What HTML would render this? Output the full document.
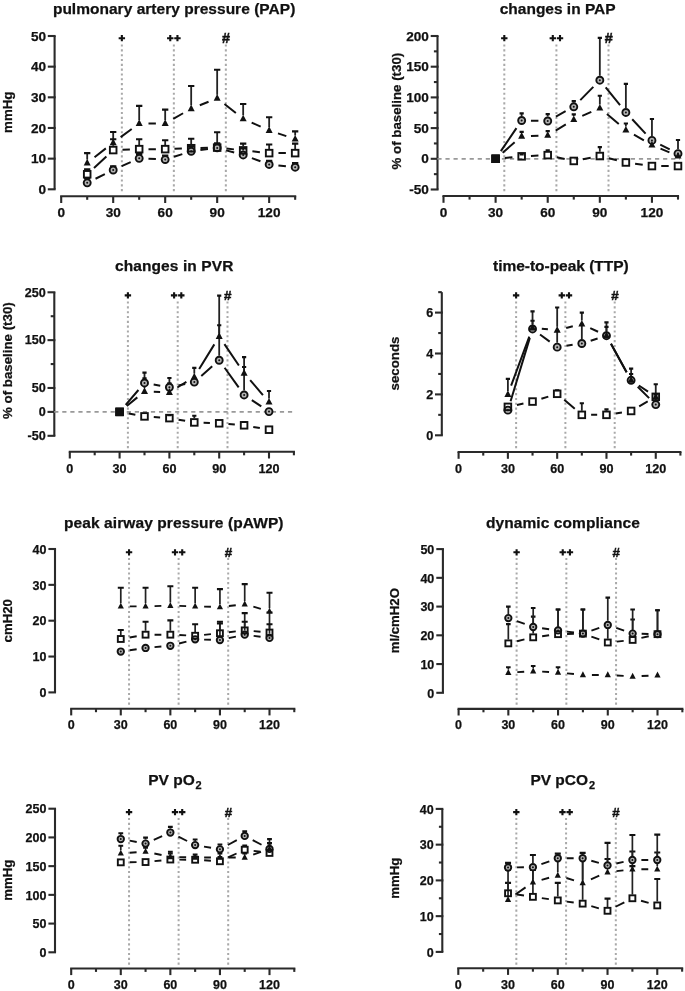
<!DOCTYPE html>
<html><head><meta charset="utf-8"><title>figure</title>
<style>
html,body{margin:0;padding:0;background:#fff;}
body{width:685px;height:991px;overflow:hidden;}
svg{display:block;filter:blur(0.55px);}
text{font-family:"Liberation Sans",sans-serif;font-weight:bold;fill:#111;stroke:#111;stroke-width:0.25px;}
</style></head><body>
<svg width="685" height="991" viewBox="0 0 685 991">
<rect width="685" height="991" fill="#fff"/>
<g>
<text x="174.1" y="13.5" font-size="15.5" text-anchor="middle" textLength="242.4">pulmonary artery pressure (PAP)</text>
<text transform="translate(11.8 112.2) rotate(-90)" font-size="13.3" text-anchor="middle">mmHg</text>
<path d="M54.6 36V189.3" stroke="#2a2a2a" stroke-width="2.1" fill="none"/>
<path d="M47.8 189.3H55.65" stroke="#2a2a2a" stroke-width="2.1"/>
<text x="46" y="193.86" font-size="13.6" text-anchor="end">0</text>
<path d="M47.8 158.64H55.65" stroke="#2a2a2a" stroke-width="2.1"/>
<text x="46" y="163.2" font-size="13.6" text-anchor="end">10</text>
<path d="M47.8 127.98H55.65" stroke="#2a2a2a" stroke-width="2.1"/>
<text x="46" y="132.54" font-size="13.6" text-anchor="end">20</text>
<path d="M47.8 97.32H55.65" stroke="#2a2a2a" stroke-width="2.1"/>
<text x="46" y="101.88" font-size="13.6" text-anchor="end">30</text>
<path d="M47.8 66.66H55.65" stroke="#2a2a2a" stroke-width="2.1"/>
<text x="46" y="71.22" font-size="13.6" text-anchor="end">40</text>
<path d="M47.8 36H55.65" stroke="#2a2a2a" stroke-width="2.1"/>
<text x="46" y="40.56" font-size="13.6" text-anchor="end">50</text>
<path d="M60.15 196.2H296.21" stroke="#2a2a2a" stroke-width="2.1" fill="none"/>
<path d="M61.2 196.2V203" stroke="#2a2a2a" stroke-width="2.1"/>
<text x="61.2" y="217.2" font-size="13.6" text-anchor="middle">0</text>
<path d="M113.19 196.2V203" stroke="#2a2a2a" stroke-width="2.1"/>
<text x="113.19" y="217.2" font-size="13.6" text-anchor="middle">30</text>
<path d="M165.18 196.2V203" stroke="#2a2a2a" stroke-width="2.1"/>
<text x="165.18" y="217.2" font-size="13.6" text-anchor="middle">60</text>
<path d="M217.17 196.2V203" stroke="#2a2a2a" stroke-width="2.1"/>
<text x="217.17" y="217.2" font-size="13.6" text-anchor="middle">90</text>
<path d="M269.16 196.2V203" stroke="#2a2a2a" stroke-width="2.1"/>
<text x="269.16" y="217.2" font-size="13.6" text-anchor="middle">120</text>
<path d="M87.2 196.2V199.8" stroke="#2a2a2a" stroke-width="2.1"/>
<path d="M139.19 196.2V199.8" stroke="#2a2a2a" stroke-width="2.1"/>
<path d="M191.18 196.2V199.8" stroke="#2a2a2a" stroke-width="2.1"/>
<path d="M243.17 196.2V199.8" stroke="#2a2a2a" stroke-width="2.1"/>
<path d="M295.16 196.2V199.8" stroke="#2a2a2a" stroke-width="2.1"/>
<path d="M121.86 44.5V193.2" stroke="#a9a9a9" stroke-width="2.0" stroke-dasharray="2.1 2.72"/>
<path d="M173.85 44.5V193.2" stroke="#a9a9a9" stroke-width="2.0" stroke-dasharray="2.1 2.72"/>
<path d="M225.84 44.5V193.2" stroke="#a9a9a9" stroke-width="2.0" stroke-dasharray="2.1 2.72"/>
<path d="M118.66 38.2h6.4M121.86 35.1v6.2" stroke="#111" stroke-width="2.1"/>
<path d="M167.05 38.2h6.4M170.25 35.1v6.2" stroke="#111" stroke-width="2.1"/>
<path d="M174.25 38.2h6.4M177.45 35.1v6.2" stroke="#111" stroke-width="2.1"/>
<text x="226.04" y="42.9" font-size="14.4" text-anchor="middle" style="stroke-width:0.5px">#</text>
<path d="M94.53 157.22L105.85 148.41M120.65 137.15L131.72 128.93M148.49 123.38L155.88 123.38M173.27 118.8L183.08 113.25M199.81 105.2L208.54 101.7M224.47 104.01L235.87 113.02M251.65 122.59L260.67 126.63M277.99 133.35L286.32 136.1" stroke="#111" stroke-width="2.0" fill="none" stroke-linecap="butt"/>
<path d="M87.2 159.43V153.12M113.19 139.2V131.97M139.19 119.88V105.9M165.18 119.88V109.58M191.18 105.16V85.98M217.17 94.74V69.73M243.17 115.28V104.07M269.16 126.93V117.25M295.16 135.52V131.35" stroke="#222" stroke-width="1.8" fill="none"/>
<path d="M84.05 153.12H90.35M110.04 131.97H116.34M136.03 105.9H142.34M162.03 109.58H168.33M188.03 85.98H194.33M214.02 69.73H220.32M240.02 104.07H246.32M266.01 117.25H272.31M292.01 131.35H298.31" stroke="#111" stroke-width="2.1" fill="none"/>
<path d="M94 167.94L106.39 156.4M122.48 149.73L129.89 149.46M148.49 149.14L155.88 149.14M174.47 148.81L181.88 148.54M200.47 148L207.87 147.82M226.42 148.58L233.92 149.38M252.41 151.34L259.91 152.14M278.46 153.12L285.86 153.12" stroke="#111" stroke-width="2.0" fill="none" stroke-linecap="butt"/>
<path d="M87.2 170.08V169.37M113.19 145.86V139.32M139.19 144.94V139.32M165.18 144.94V140.24M191.18 144.02V138.71M217.17 143.4V132.27M243.17 146.16V143.62M269.16 148.92V144.54M295.16 148.92V143.62" stroke="#222" stroke-width="1.8" fill="none"/>
<path d="M84.05 169.37H90.35M110.04 139.32H116.34M136.03 139.32H142.34M162.03 140.24H168.33M188.03 138.71H194.33M214.02 132.27H220.32M240.02 143.62H246.32M266.01 144.54H272.31M292.01 143.62H298.31" stroke="#111" stroke-width="2.1" fill="none"/>
<path d="M95.53 178.73L104.86 174.11M121.68 166.18L130.7 162.14M148.47 158.77L155.89 159.12M174.04 156.74L182.31 154.1M200.4 150.09L207.95 149.11M226.15 150.34L234.19 152.53M251.9 158.15L260.43 161.27M278.41 165.45L285.91 166.24" stroke="#111" stroke-width="2.0" fill="none" stroke-linecap="butt"/>
<path d="M191.18 146.88V146.38M243.17 150.56V148.52" stroke="#222" stroke-width="1.8" fill="none"/>
<path d="M84.05 178.57H90.35M110.04 166.31H116.34M136.03 154.04H142.34M162.03 155.57H168.33M188.03 146.38H194.33M214.02 143.31H220.32M240.02 148.52H246.32M266.01 160.79H272.31M292.01 162.93H298.31" stroke="#111" stroke-width="2.1" fill="none"/>
<circle cx="87.2" cy="182.86" r="3.5" fill="#b4b4b4" stroke="#111" stroke-width="1.9"/>
<circle cx="87.2" cy="182.86" r="1.0" fill="#111"/>
<circle cx="113.19" cy="169.98" r="3.5" fill="#b4b4b4" stroke="#111" stroke-width="1.9"/>
<circle cx="113.19" cy="169.98" r="1.0" fill="#111"/>
<circle cx="139.19" cy="158.33" r="3.5" fill="#b4b4b4" stroke="#111" stroke-width="1.9"/>
<circle cx="139.19" cy="158.33" r="1.0" fill="#111"/>
<circle cx="165.18" cy="159.56" r="3.5" fill="#b4b4b4" stroke="#111" stroke-width="1.9"/>
<circle cx="165.18" cy="159.56" r="1.0" fill="#111"/>
<circle cx="191.18" cy="151.28" r="3.5" fill="#b4b4b4" stroke="#111" stroke-width="1.9"/>
<circle cx="191.18" cy="151.28" r="1.0" fill="#111"/>
<circle cx="217.17" cy="147.91" r="3.5" fill="#b4b4b4" stroke="#111" stroke-width="1.9"/>
<circle cx="217.17" cy="147.91" r="1.0" fill="#111"/>
<circle cx="243.17" cy="154.96" r="3.5" fill="#b4b4b4" stroke="#111" stroke-width="1.9"/>
<circle cx="243.17" cy="154.96" r="1.0" fill="#111"/>
<circle cx="269.16" cy="164.47" r="3.5" fill="#b4b4b4" stroke="#111" stroke-width="1.9"/>
<circle cx="269.16" cy="164.47" r="1.0" fill="#111"/>
<circle cx="295.16" cy="167.22" r="3.5" fill="#b4b4b4" stroke="#111" stroke-width="1.9"/>
<circle cx="295.16" cy="167.22" r="1.0" fill="#111"/>
<rect x="83.9" y="170.98" width="6.6" height="6.6" fill="none" stroke="#111" stroke-width="1.9"/>
<rect x="109.89" y="146.76" width="6.6" height="6.6" fill="none" stroke="#111" stroke-width="1.9"/>
<rect x="135.88" y="145.84" width="6.6" height="6.6" fill="none" stroke="#111" stroke-width="1.9"/>
<rect x="161.88" y="145.84" width="6.6" height="6.6" fill="none" stroke="#111" stroke-width="1.9"/>
<rect x="187.88" y="144.92" width="6.6" height="6.6" fill="none" stroke="#111" stroke-width="1.9"/>
<rect x="213.87" y="144.3" width="6.6" height="6.6" fill="none" stroke="#111" stroke-width="1.9"/>
<rect x="239.87" y="147.06" width="6.6" height="6.6" fill="none" stroke="#111" stroke-width="1.9"/>
<rect x="265.86" y="149.82" width="6.6" height="6.6" fill="none" stroke="#111" stroke-width="1.9"/>
<rect x="291.86" y="149.82" width="6.6" height="6.6" fill="none" stroke="#111" stroke-width="1.9"/>
<path d="M87.2 158.81L90.7 165.46L83.7 165.46Z" fill="#111"/>
<path d="M113.19 138.57L116.69 145.22L109.69 145.22Z" fill="#111"/>
<path d="M139.19 119.26L142.69 125.91L135.69 125.91Z" fill="#111"/>
<path d="M165.18 119.26L168.68 125.91L161.68 125.91Z" fill="#111"/>
<path d="M191.18 104.54L194.68 111.19L187.68 111.19Z" fill="#111"/>
<path d="M217.17 94.12L220.67 100.77L213.67 100.77Z" fill="#111"/>
<path d="M243.17 114.66L246.67 121.31L239.67 121.31Z" fill="#111"/>
<path d="M269.16 126.31L272.66 132.96L265.66 132.96Z" fill="#111"/>
<path d="M295.16 134.89L298.66 141.54L291.66 141.54Z" fill="#111"/>
</g>
<g>
<text x="557.7" y="13.5" font-size="15.5" text-anchor="middle" textLength="115.9">changes in PAP</text>
<text transform="translate(400.6 111.1) rotate(-90)" font-size="13.3" text-anchor="middle">% of baseline (t30)</text>
<path d="M437.5 36V189.5" stroke="#2a2a2a" stroke-width="2.1" fill="none"/>
<path d="M430.7 189.5H438.55" stroke="#2a2a2a" stroke-width="2.1"/>
<text x="428.9" y="194.06" font-size="13.6" text-anchor="end">-50</text>
<path d="M430.7 158.8H438.55" stroke="#2a2a2a" stroke-width="2.1"/>
<text x="428.9" y="163.36" font-size="13.6" text-anchor="end">0</text>
<path d="M430.7 128.1H438.55" stroke="#2a2a2a" stroke-width="2.1"/>
<text x="428.9" y="132.66" font-size="13.6" text-anchor="end">50</text>
<path d="M430.7 97.4H438.55" stroke="#2a2a2a" stroke-width="2.1"/>
<text x="428.9" y="101.96" font-size="13.6" text-anchor="end">100</text>
<path d="M430.7 66.7H438.55" stroke="#2a2a2a" stroke-width="2.1"/>
<text x="428.9" y="71.26" font-size="13.6" text-anchor="end">150</text>
<path d="M430.7 36H438.55" stroke="#2a2a2a" stroke-width="2.1"/>
<text x="428.9" y="40.56" font-size="13.6" text-anchor="end">200</text>
<path d="M433.9 174.15H437.5" stroke="#2a2a2a" stroke-width="2.1"/>
<path d="M433.9 143.45H437.5" stroke="#2a2a2a" stroke-width="2.1"/>
<path d="M433.9 112.75H437.5" stroke="#2a2a2a" stroke-width="2.1"/>
<path d="M433.9 82.05H437.5" stroke="#2a2a2a" stroke-width="2.1"/>
<path d="M433.9 51.35H437.5" stroke="#2a2a2a" stroke-width="2.1"/>
<path d="M442.45 196H679.04" stroke="#2a2a2a" stroke-width="2.1" fill="none"/>
<path d="M443.5 196V202.8" stroke="#2a2a2a" stroke-width="2.1"/>
<text x="443.5" y="217" font-size="13.6" text-anchor="middle">0</text>
<path d="M495.61 196V202.8" stroke="#2a2a2a" stroke-width="2.1"/>
<text x="495.61" y="217" font-size="13.6" text-anchor="middle">30</text>
<path d="M547.72 196V202.8" stroke="#2a2a2a" stroke-width="2.1"/>
<text x="547.72" y="217" font-size="13.6" text-anchor="middle">60</text>
<path d="M599.83 196V202.8" stroke="#2a2a2a" stroke-width="2.1"/>
<text x="599.83" y="217" font-size="13.6" text-anchor="middle">90</text>
<path d="M651.94 196V202.8" stroke="#2a2a2a" stroke-width="2.1"/>
<text x="651.94" y="217" font-size="13.6" text-anchor="middle">120</text>
<path d="M469.56 196V199.6" stroke="#2a2a2a" stroke-width="2.1"/>
<path d="M521.66 196V199.6" stroke="#2a2a2a" stroke-width="2.1"/>
<path d="M573.77 196V199.6" stroke="#2a2a2a" stroke-width="2.1"/>
<path d="M625.88 196V199.6" stroke="#2a2a2a" stroke-width="2.1"/>
<path d="M678 196V199.6" stroke="#2a2a2a" stroke-width="2.1"/>
<path d="M504.3 44.5V193.2" stroke="#a9a9a9" stroke-width="2.0" stroke-dasharray="2.1 2.72"/>
<path d="M556.4 44.5V193.2" stroke="#a9a9a9" stroke-width="2.0" stroke-dasharray="2.1 2.72"/>
<path d="M608.51 44.5V193.2" stroke="#a9a9a9" stroke-width="2.0" stroke-dasharray="2.1 2.72"/>
<path d="M501.1 38.2h6.4M504.3 35.1v6.2" stroke="#111" stroke-width="2.1"/>
<path d="M549.6 38.2h6.4M552.8 35.1v6.2" stroke="#111" stroke-width="2.1"/>
<path d="M556.8 38.2h6.4M560 35.1v6.2" stroke="#111" stroke-width="2.1"/>
<text x="608.72" y="42.9" font-size="14.4" text-anchor="middle" style="stroke-width:0.5px">#</text>
<path d="M437.4 158.8H680" stroke="#999" stroke-width="1.7" stroke-dasharray="4.2 3.86"/>
<path d="M502.64 152.71L514.64 142.3M530.96 135.9L538.43 135.65M555.67 130.53L565.82 124.38M582.29 115.82L591.32 111.83M606.94 114.08L618.78 124.07M633.95 134.7L643.88 140.41M660.51 148.66L669.43 152.42" stroke="#111" stroke-width="2.0" fill="none" stroke-linecap="butt"/>
<path d="M521.66 132.7V131.91M547.72 131.85V131.17M573.77 116.07V114.35M599.83 104.58V95.74M625.88 126.56V123.43" stroke="#222" stroke-width="1.8" fill="none"/>
<path d="M519.56 131.91H523.76M545.62 131.17H549.82M571.67 114.35H575.88M597.73 95.74H601.93M623.78 123.43H627.99M649.84 142.22H654.04M675.89 153.27H680.1" stroke="#111" stroke-width="2.1" fill="none"/>
<path d="M504.87 157.93L512.41 157.22M530.95 155.91L538.43 155.55M556.8 157.15L564.7 158.92M582.91 159.23L590.69 157.76M608.86 158.27L616.86 160.25M635.1 163.74L642.73 164.79M661.24 166.05L668.7 166.05" stroke="#111" stroke-width="2.0" fill="none" stroke-linecap="butt"/>
<path d="M547.72 150.92V150.2M599.83 151.84V147.13" stroke="#222" stroke-width="1.8" fill="none"/>
<path d="M519.56 154.5H523.76M545.62 150.2H549.82M597.73 147.13H601.93" stroke="#111" stroke-width="2.1" fill="none"/>
<path d="M500.84 151.11L516.44 128.18M530.96 120.66L538.42 120.8M555.89 116.53L565.61 111.24M580.28 100.15L593.32 86.85M605.68 87.44L620.04 105.21M632.23 119.24L645.6 133.58M660.23 144.6L669.71 149.42" stroke="#111" stroke-width="2.0" fill="none" stroke-linecap="butt"/>
<path d="M521.66 116.09V113.36M547.72 116.58V114.16M573.77 102.39V101.08M599.83 75.81V37.84M625.88 108.04V83.89M651.94 135.98V119.07M678 149.24V140.01" stroke="#222" stroke-width="1.8" fill="none"/>
<path d="M519.56 113.36H523.76M545.62 114.16H549.82M571.67 101.08H575.88M597.73 37.84H601.93M623.78 83.89H627.99M649.84 119.07H654.04M675.89 140.01H680.1" stroke="#111" stroke-width="2.1" fill="none"/>
<rect x="491.41" y="154.6" width="8.4" height="8.4" fill="#111"/>
<circle cx="521.66" cy="120.49" r="3.5" fill="#b4b4b4" stroke="#111" stroke-width="1.9"/>
<circle cx="521.66" cy="120.49" r="1.0" fill="#111"/>
<circle cx="547.72" cy="120.98" r="3.5" fill="#b4b4b4" stroke="#111" stroke-width="1.9"/>
<circle cx="547.72" cy="120.98" r="1.0" fill="#111"/>
<circle cx="573.77" cy="106.79" r="3.5" fill="#b4b4b4" stroke="#111" stroke-width="1.9"/>
<circle cx="573.77" cy="106.79" r="1.0" fill="#111"/>
<circle cx="599.83" cy="80.21" r="3.5" fill="#b4b4b4" stroke="#111" stroke-width="1.9"/>
<circle cx="599.83" cy="80.21" r="1.0" fill="#111"/>
<circle cx="625.88" cy="112.44" r="3.5" fill="#b4b4b4" stroke="#111" stroke-width="1.9"/>
<circle cx="625.88" cy="112.44" r="1.0" fill="#111"/>
<circle cx="651.94" cy="140.38" r="3.5" fill="#b4b4b4" stroke="#111" stroke-width="1.9"/>
<circle cx="651.94" cy="140.38" r="1.0" fill="#111"/>
<circle cx="678" cy="153.64" r="3.5" fill="#b4b4b4" stroke="#111" stroke-width="1.9"/>
<circle cx="678" cy="153.64" r="1.0" fill="#111"/>
<rect x="491.41" y="154.6" width="8.4" height="8.4" fill="#111"/>
<rect x="518.37" y="153.04" width="6.6" height="6.6" fill="none" stroke="#111" stroke-width="1.9"/>
<rect x="544.42" y="151.82" width="6.6" height="6.6" fill="none" stroke="#111" stroke-width="1.9"/>
<rect x="570.48" y="157.65" width="6.6" height="6.6" fill="none" stroke="#111" stroke-width="1.9"/>
<rect x="596.53" y="152.74" width="6.6" height="6.6" fill="none" stroke="#111" stroke-width="1.9"/>
<rect x="622.59" y="159.18" width="6.6" height="6.6" fill="none" stroke="#111" stroke-width="1.9"/>
<rect x="648.64" y="162.75" width="6.6" height="6.6" fill="none" stroke="#111" stroke-width="1.9"/>
<rect x="674.7" y="162.75" width="6.6" height="6.6" fill="none" stroke="#111" stroke-width="1.9"/>
<rect x="491.41" y="154.6" width="8.4" height="8.4" fill="#111"/>
<path d="M521.66 132.08L525.16 138.73L518.16 138.73Z" fill="#111"/>
<path d="M547.72 131.22L551.22 137.87L544.22 137.87Z" fill="#111"/>
<path d="M573.77 115.44L577.27 122.09L570.27 122.09Z" fill="#111"/>
<path d="M599.83 103.96L603.33 110.61L596.33 110.61Z" fill="#111"/>
<path d="M625.88 125.94L629.38 132.59L622.38 132.59Z" fill="#111"/>
<path d="M651.94 140.92L655.44 147.57L648.44 147.57Z" fill="#111"/>
<path d="M678 151.91L681.5 158.56L674.5 158.56Z" fill="#111"/>
</g>
<g>
<text x="174.2" y="271.3" font-size="15.5" text-anchor="middle" textLength="118.4">changes in PVR</text>
<text transform="translate(12.1 360.6) rotate(-90)" font-size="13.3" text-anchor="middle">% of baseline (t30)</text>
<path d="M54.3 292.3V435.82" stroke="#2a2a2a" stroke-width="2.1" fill="none"/>
<path d="M47.5 435.82H55.35" stroke="#2a2a2a" stroke-width="2.1"/>
<text x="45.7" y="440.04" font-size="12.6" text-anchor="end">-50</text>
<path d="M47.5 411.9H55.35" stroke="#2a2a2a" stroke-width="2.1"/>
<text x="45.7" y="416.12" font-size="12.6" text-anchor="end">0</text>
<path d="M47.5 387.98H55.35" stroke="#2a2a2a" stroke-width="2.1"/>
<text x="45.7" y="392.2" font-size="12.6" text-anchor="end">50</text>
<path d="M47.5 340.14H55.35" stroke="#2a2a2a" stroke-width="2.1"/>
<text x="45.7" y="344.36" font-size="12.6" text-anchor="end">150</text>
<path d="M47.5 292.3H55.35" stroke="#2a2a2a" stroke-width="2.1"/>
<text x="45.7" y="296.52" font-size="12.6" text-anchor="end">250</text>
<path d="M50.7 364.06H54.3" stroke="#2a2a2a" stroke-width="2.1"/>
<path d="M50.7 316.22H54.3" stroke="#2a2a2a" stroke-width="2.1"/>
<path d="M68.75 451.7H294.95" stroke="#2a2a2a" stroke-width="2.1" fill="none"/>
<path d="M69.8 451.7V458.5" stroke="#2a2a2a" stroke-width="2.1"/>
<text x="69.8" y="473.1" font-size="12.6" text-anchor="middle">0</text>
<path d="M119.6 451.7V458.5" stroke="#2a2a2a" stroke-width="2.1"/>
<text x="119.6" y="473.1" font-size="12.6" text-anchor="middle">30</text>
<path d="M169.4 451.7V458.5" stroke="#2a2a2a" stroke-width="2.1"/>
<text x="169.4" y="473.1" font-size="12.6" text-anchor="middle">60</text>
<path d="M219.2 451.7V458.5" stroke="#2a2a2a" stroke-width="2.1"/>
<text x="219.2" y="473.1" font-size="12.6" text-anchor="middle">90</text>
<path d="M269 451.7V458.5" stroke="#2a2a2a" stroke-width="2.1"/>
<text x="269" y="473.1" font-size="12.6" text-anchor="middle">120</text>
<path d="M94.7 451.7V455.3" stroke="#2a2a2a" stroke-width="2.1"/>
<path d="M144.5 451.7V455.3" stroke="#2a2a2a" stroke-width="2.1"/>
<path d="M194.3 451.7V455.3" stroke="#2a2a2a" stroke-width="2.1"/>
<path d="M244.1 451.7V455.3" stroke="#2a2a2a" stroke-width="2.1"/>
<path d="M293.9 451.7V455.3" stroke="#2a2a2a" stroke-width="2.1"/>
<path d="M127.9 301.5V448.6" stroke="#a9a9a9" stroke-width="2.0" stroke-dasharray="2.1 2.72"/>
<path d="M177.7 301.5V448.6" stroke="#a9a9a9" stroke-width="2.0" stroke-dasharray="2.1 2.72"/>
<path d="M227.5 301.5V448.6" stroke="#a9a9a9" stroke-width="2.0" stroke-dasharray="2.1 2.72"/>
<path d="M124.7 295.4h6.4M127.9 292.3v6.2" stroke="#111" stroke-width="2.1"/>
<path d="M170.9 295.4h6.4M174.1 292.3v6.2" stroke="#111" stroke-width="2.1"/>
<path d="M178.1 295.4h6.4M181.3 292.3v6.2" stroke="#111" stroke-width="2.1"/>
<text x="227.7" y="300.1" font-size="13.4" text-anchor="middle" style="stroke-width:0.5px">#</text>
<path d="M54.2 411.9H295.9" stroke="#999" stroke-width="1.7" stroke-dasharray="4.2 3.86"/>
<path d="M126.79 406L137.31 397.37M153.79 391.81L160.11 392.04M177.31 387.49L186.39 381.87M199.17 369.05L214.33 344.38M224.42 344.15L238.88 365.45M250.17 380.2L262.93 395.04" stroke="#111" stroke-width="2.0" fill="none" stroke-linecap="butt"/>
<path d="M144.5 387.97V372.67M169.4 388.88V377.93M194.3 373.48V367.89M219.2 332.96V295.65M244.1 369.65V357.08M269 398.59V390.99" stroke="#222" stroke-width="1.8" fill="none"/>
<path d="M142.4 372.67H146.6M167.3 377.93H171.5M192.2 367.89H196.4M217.1 295.65H221.3M242 357.08H246.2M266.9 390.99H271.1" stroke="#111" stroke-width="2.1" fill="none"/>
<path d="M128.75 413.55L135.35 414.74M153.78 417.04L160.12 417.48M178.56 419.7L185.14 420.84M203.59 422.75L209.91 422.96M228.47 424.03L234.83 424.55M253.26 426.91L259.84 428.08" stroke="#111" stroke-width="2.0" fill="none" stroke-linecap="butt"/>
<path d="M194.3 418.22V415.73" stroke="#222" stroke-width="1.8" fill="none"/>
<path d="M167.3 415.25H171.5M192.2 415.73H196.4M242 421.95H246.2" stroke="#111" stroke-width="2.1" fill="none"/>
<path d="M125.67 404.85L138.43 390.01M153.66 384.54L160.24 385.68M178.51 385.37L185.19 383.99M201.29 375.96L212.21 366.37M224.62 367.79L238.68 387.41M251.83 400.13L261.27 406.44" stroke="#111" stroke-width="2.0" fill="none" stroke-linecap="butt"/>
<path d="M219.2 355.83V325.31M244.1 390.56V366.93" stroke="#222" stroke-width="1.8" fill="none"/>
<path d="M142.4 378.41H146.6M167.3 383.2H171.5M192.2 378.41H196.4M217.1 325.31H221.3M242 366.93H246.2M266.9 409.51H271.1" stroke="#111" stroke-width="2.1" fill="none"/>
<rect x="115.4" y="407.7" width="8.4" height="8.4" fill="#111"/>
<circle cx="144.5" cy="382.96" r="3.5" fill="#b4b4b4" stroke="#111" stroke-width="1.9"/>
<circle cx="144.5" cy="382.96" r="1.0" fill="#111"/>
<circle cx="169.4" cy="387.26" r="3.5" fill="#b4b4b4" stroke="#111" stroke-width="1.9"/>
<circle cx="169.4" cy="387.26" r="1.0" fill="#111"/>
<circle cx="194.3" cy="382.1" r="3.5" fill="#b4b4b4" stroke="#111" stroke-width="1.9"/>
<circle cx="194.3" cy="382.1" r="1.0" fill="#111"/>
<circle cx="219.2" cy="360.23" r="3.5" fill="#b4b4b4" stroke="#111" stroke-width="1.9"/>
<circle cx="219.2" cy="360.23" r="1.0" fill="#111"/>
<circle cx="244.1" cy="394.96" r="3.5" fill="#b4b4b4" stroke="#111" stroke-width="1.9"/>
<circle cx="244.1" cy="394.96" r="1.0" fill="#111"/>
<circle cx="269" cy="411.61" r="3.5" fill="#b4b4b4" stroke="#111" stroke-width="1.9"/>
<circle cx="269" cy="411.61" r="1.0" fill="#111"/>
<rect x="115.4" y="407.7" width="8.4" height="8.4" fill="#111"/>
<rect x="141.2" y="413.1" width="6.6" height="6.6" fill="none" stroke="#111" stroke-width="1.9"/>
<rect x="166.1" y="414.82" width="6.6" height="6.6" fill="none" stroke="#111" stroke-width="1.9"/>
<rect x="191" y="419.12" width="6.6" height="6.6" fill="none" stroke="#111" stroke-width="1.9"/>
<rect x="215.9" y="419.99" width="6.6" height="6.6" fill="none" stroke="#111" stroke-width="1.9"/>
<rect x="240.8" y="422" width="6.6" height="6.6" fill="none" stroke="#111" stroke-width="1.9"/>
<rect x="265.7" y="426.4" width="6.6" height="6.6" fill="none" stroke="#111" stroke-width="1.9"/>
<rect x="115.4" y="407.7" width="8.4" height="8.4" fill="#111"/>
<path d="M144.5 387.35L148 394L141 394Z" fill="#111"/>
<path d="M169.4 388.26L172.9 394.91L165.9 394.91Z" fill="#111"/>
<path d="M194.3 372.85L197.8 379.5L190.8 379.5Z" fill="#111"/>
<path d="M219.2 332.33L222.7 338.98L215.7 338.98Z" fill="#111"/>
<path d="M244.1 369.03L247.6 375.68L240.6 375.68Z" fill="#111"/>
<path d="M269 397.97L272.5 404.62L265.5 404.62Z" fill="#111"/>
</g>
<g>
<text x="560.85" y="271.3" font-size="15.5" text-anchor="middle" textLength="135.6">time-to-peak (TTP)</text>
<text transform="translate(399.4 363.5) rotate(-90)" font-size="13.3" text-anchor="middle">seconds</text>
<path d="M441.8 292.15V435.3" stroke="#2a2a2a" stroke-width="2.1" fill="none"/>
<path d="M435 435.3H442.85" stroke="#2a2a2a" stroke-width="2.1"/>
<text x="433.2" y="439.52" font-size="12.6" text-anchor="end">0</text>
<path d="M435 394.4H442.85" stroke="#2a2a2a" stroke-width="2.1"/>
<text x="433.2" y="398.62" font-size="12.6" text-anchor="end">2</text>
<path d="M435 353.5H442.85" stroke="#2a2a2a" stroke-width="2.1"/>
<text x="433.2" y="357.72" font-size="12.6" text-anchor="end">4</text>
<path d="M435 312.6H442.85" stroke="#2a2a2a" stroke-width="2.1"/>
<text x="433.2" y="316.82" font-size="12.6" text-anchor="end">6</text>
<path d="M438.2 414.85H441.8" stroke="#2a2a2a" stroke-width="2.1"/>
<path d="M438.2 373.95H441.8" stroke="#2a2a2a" stroke-width="2.1"/>
<path d="M438.2 333.05H441.8" stroke="#2a2a2a" stroke-width="2.1"/>
<path d="M438.2 292.15H441.8" stroke="#2a2a2a" stroke-width="2.1"/>
<path d="M457.55 452H681.45" stroke="#2a2a2a" stroke-width="2.1" fill="none"/>
<path d="M458.6 452V458.8" stroke="#2a2a2a" stroke-width="2.1"/>
<text x="458.6" y="473.4" font-size="12.6" text-anchor="middle">0</text>
<path d="M507.89 452V458.8" stroke="#2a2a2a" stroke-width="2.1"/>
<text x="507.89" y="473.4" font-size="12.6" text-anchor="middle">30</text>
<path d="M557.18 452V458.8" stroke="#2a2a2a" stroke-width="2.1"/>
<text x="557.18" y="473.4" font-size="12.6" text-anchor="middle">60</text>
<path d="M606.47 452V458.8" stroke="#2a2a2a" stroke-width="2.1"/>
<text x="606.47" y="473.4" font-size="12.6" text-anchor="middle">90</text>
<path d="M655.76 452V458.8" stroke="#2a2a2a" stroke-width="2.1"/>
<text x="655.76" y="473.4" font-size="12.6" text-anchor="middle">120</text>
<path d="M483.25 452V455.6" stroke="#2a2a2a" stroke-width="2.1"/>
<path d="M532.54 452V455.6" stroke="#2a2a2a" stroke-width="2.1"/>
<path d="M581.83 452V455.6" stroke="#2a2a2a" stroke-width="2.1"/>
<path d="M631.12 452V455.6" stroke="#2a2a2a" stroke-width="2.1"/>
<path d="M680.4 452V455.6" stroke="#2a2a2a" stroke-width="2.1"/>
<path d="M516.11 301.5V448.6" stroke="#a9a9a9" stroke-width="2.0" stroke-dasharray="2.1 2.72"/>
<path d="M565.39 301.5V448.6" stroke="#a9a9a9" stroke-width="2.0" stroke-dasharray="2.1 2.72"/>
<path d="M614.69 301.5V448.6" stroke="#a9a9a9" stroke-width="2.0" stroke-dasharray="2.1 2.72"/>
<path d="M512.9 295.4h6.4M516.11 292.3v6.2" stroke="#111" stroke-width="2.1"/>
<path d="M558.59 295.4h6.4M561.79 292.3v6.2" stroke="#111" stroke-width="2.1"/>
<path d="M565.79 295.4h6.4M569 292.3v6.2" stroke="#111" stroke-width="2.1"/>
<text x="614.89" y="300.1" font-size="13.4" text-anchor="middle" style="stroke-width:0.5px">#</text>
<path d="M511.12 385.68L529.3 336.66M541.8 328.78L547.92 329.34M566.2 327.94L572.8 326.3M590.23 328.03L598.06 331.73M610.97 343.85L626.62 372.15M638.83 385.48L648.04 391.67" stroke="#111" stroke-width="2.0" fill="none" stroke-linecap="butt"/>
<path d="M507.89 390.9V378.86M532.54 324.44V311.37M557.18 326.69V307.49M581.83 320.55V312.6M606.47 332.21V322.42M631.12 376.79V368.63M655.76 393.35V384.18" stroke="#222" stroke-width="1.8" fill="none"/>
<path d="M505.79 378.86H509.99M530.44 311.37H534.64M555.08 307.49H559.28M579.73 312.6H583.93M604.37 322.42H608.57M629.01 368.63H633.22M653.66 384.18H657.86" stroke="#111" stroke-width="2.1" fill="none"/>
<path d="M516.98 404.91L523.44 403.52M541.4 398.76L548.31 396.58M564.25 399.83L574.76 408.81M591.12 414.85L597.17 414.85M615.66 413.4L621.93 412.41M639.19 406.34L647.69 401.47" stroke="#111" stroke-width="2.0" fill="none" stroke-linecap="butt"/>
<path d="M581.83 410.65V403.19M606.47 410.65V409.33" stroke="#222" stroke-width="1.8" fill="none"/>
<path d="M555.08 390.31H559.28M579.73 403.19H583.93M604.37 409.33H608.57" stroke="#111" stroke-width="2.1" fill="none"/>
<path d="M510.59 401.25L529.83 337.86M540.02 334.48L549.7 341.64M566.38 345.79L572.63 344.85M590.69 340.68L597.6 338.51M610.97 343.85L626.62 372.15M637.73 386.82L649.14 398.09" stroke="#111" stroke-width="2.0" fill="none" stroke-linecap="butt"/>
<path d="M532.54 324.56V320.78M557.18 342.76V331.01M581.83 339.08V324.87M606.47 331.31V326.92M631.12 375.89V373.95M655.76 400.23V394.4" stroke="#222" stroke-width="1.8" fill="none"/>
<path d="M530.44 320.78H534.64M555.08 331.01H559.28M579.73 324.87H583.93M604.37 326.92H608.57M629.01 373.95H633.22M653.66 394.4H657.86" stroke="#111" stroke-width="2.1" fill="none"/>
<circle cx="507.89" cy="410.15" r="3.5" fill="#b4b4b4" stroke="#111" stroke-width="1.9"/>
<circle cx="507.89" cy="410.15" r="1.0" fill="#111"/>
<circle cx="532.54" cy="328.96" r="3.5" fill="#b4b4b4" stroke="#111" stroke-width="1.9"/>
<circle cx="532.54" cy="328.96" r="1.0" fill="#111"/>
<circle cx="557.18" cy="347.16" r="3.5" fill="#b4b4b4" stroke="#111" stroke-width="1.9"/>
<circle cx="557.18" cy="347.16" r="1.0" fill="#111"/>
<circle cx="581.83" cy="343.48" r="3.5" fill="#b4b4b4" stroke="#111" stroke-width="1.9"/>
<circle cx="581.83" cy="343.48" r="1.0" fill="#111"/>
<circle cx="606.47" cy="335.71" r="3.5" fill="#b4b4b4" stroke="#111" stroke-width="1.9"/>
<circle cx="606.47" cy="335.71" r="1.0" fill="#111"/>
<circle cx="631.12" cy="380.29" r="3.5" fill="#b4b4b4" stroke="#111" stroke-width="1.9"/>
<circle cx="631.12" cy="380.29" r="1.0" fill="#111"/>
<circle cx="655.76" cy="404.62" r="3.5" fill="#b4b4b4" stroke="#111" stroke-width="1.9"/>
<circle cx="655.76" cy="404.62" r="1.0" fill="#111"/>
<rect x="504.59" y="403.57" width="6.6" height="6.6" fill="none" stroke="#111" stroke-width="1.9"/>
<rect x="529.24" y="398.26" width="6.6" height="6.6" fill="none" stroke="#111" stroke-width="1.9"/>
<rect x="553.88" y="390.49" width="6.6" height="6.6" fill="none" stroke="#111" stroke-width="1.9"/>
<rect x="578.53" y="411.55" width="6.6" height="6.6" fill="none" stroke="#111" stroke-width="1.9"/>
<rect x="603.17" y="411.55" width="6.6" height="6.6" fill="none" stroke="#111" stroke-width="1.9"/>
<rect x="627.82" y="407.66" width="6.6" height="6.6" fill="none" stroke="#111" stroke-width="1.9"/>
<rect x="652.46" y="393.55" width="6.6" height="6.6" fill="none" stroke="#111" stroke-width="1.9"/>
<path d="M507.89 390.28L511.39 396.93L504.39 396.93Z" fill="#111"/>
<path d="M532.54 323.81L536.04 330.46L529.04 330.46Z" fill="#111"/>
<path d="M557.18 326.06L560.68 332.71L553.68 332.71Z" fill="#111"/>
<path d="M581.83 319.93L585.33 326.58L578.33 326.58Z" fill="#111"/>
<path d="M606.47 331.59L609.97 338.24L602.97 338.24Z" fill="#111"/>
<path d="M631.12 376.17L634.62 382.82L627.62 382.82Z" fill="#111"/>
<path d="M655.76 392.73L659.26 399.38L652.26 399.38Z" fill="#111"/>
</g>
<g>
<text x="173.7" y="528.4" font-size="15.5" text-anchor="middle" textLength="219.6">peak airway pressure (pAWP)</text>
<text transform="translate(12.1 620.8) rotate(-90)" font-size="13.2" text-anchor="middle">cmH20</text>
<path d="M55 549V692.4" stroke="#2a2a2a" stroke-width="2.1" fill="none"/>
<path d="M48.4 692.4H56.05" stroke="#2a2a2a" stroke-width="2.1"/>
<text x="46.4" y="697.15" font-size="12.5" text-anchor="end">0</text>
<path d="M48.4 656.55H56.05" stroke="#2a2a2a" stroke-width="2.1"/>
<text x="46.4" y="661.3" font-size="12.5" text-anchor="end">10</text>
<path d="M48.4 620.7H56.05" stroke="#2a2a2a" stroke-width="2.1"/>
<text x="46.4" y="625.45" font-size="12.5" text-anchor="end">20</text>
<path d="M48.4 584.85H56.05" stroke="#2a2a2a" stroke-width="2.1"/>
<text x="46.4" y="589.6" font-size="12.5" text-anchor="end">30</text>
<path d="M48.4 549H56.05" stroke="#2a2a2a" stroke-width="2.1"/>
<text x="46.4" y="553.75" font-size="12.5" text-anchor="end">40</text>
<path d="M70.15 708.8H295.34" stroke="#2a2a2a" stroke-width="2.1" fill="none"/>
<path d="M71.2 708.8V715.4" stroke="#2a2a2a" stroke-width="2.1"/>
<text x="71.2" y="729.3" font-size="12.5" text-anchor="middle">0</text>
<path d="M120.78 708.8V715.4" stroke="#2a2a2a" stroke-width="2.1"/>
<text x="120.78" y="729.3" font-size="12.5" text-anchor="middle">30</text>
<path d="M170.35 708.8V715.4" stroke="#2a2a2a" stroke-width="2.1"/>
<text x="170.35" y="729.3" font-size="12.5" text-anchor="middle">60</text>
<path d="M219.93 708.8V715.4" stroke="#2a2a2a" stroke-width="2.1"/>
<text x="219.93" y="729.3" font-size="12.5" text-anchor="middle">90</text>
<path d="M269.5 708.8V715.4" stroke="#2a2a2a" stroke-width="2.1"/>
<text x="269.5" y="729.3" font-size="12.5" text-anchor="middle">120</text>
<path d="M95.99 708.8V712.2" stroke="#2a2a2a" stroke-width="2.1"/>
<path d="M145.56 708.8V712.2" stroke="#2a2a2a" stroke-width="2.1"/>
<path d="M195.14 708.8V712.2" stroke="#2a2a2a" stroke-width="2.1"/>
<path d="M244.71 708.8V712.2" stroke="#2a2a2a" stroke-width="2.1"/>
<path d="M294.29 708.8V712.2" stroke="#2a2a2a" stroke-width="2.1"/>
<path d="M129.04 558V705.8" stroke="#a9a9a9" stroke-width="2.0" stroke-dasharray="2.1 2.72"/>
<path d="M178.61 558V705.8" stroke="#a9a9a9" stroke-width="2.0" stroke-dasharray="2.1 2.72"/>
<path d="M228.19 558V705.8" stroke="#a9a9a9" stroke-width="2.0" stroke-dasharray="2.1 2.72"/>
<path d="M125.84 552.3h6.4M129.04 549.2v6.2" stroke="#111" stroke-width="2.1"/>
<path d="M171.81 552.3h6.4M175.01 549.2v6.2" stroke="#111" stroke-width="2.1"/>
<path d="M179.01 552.3h6.4M182.21 549.2v6.2" stroke="#111" stroke-width="2.1"/>
<text x="228.39" y="557" font-size="13.3" text-anchor="middle" style="stroke-width:0.5px">#</text>
<path d="M129.78 606.36L136.56 606.36M154.56 606.1L161.35 605.9M179.35 605.9L186.14 606.1M204.13 606.62L210.93 606.82M228.87 606.04L235.77 605.24M253.36 606.71L260.85 608.88" stroke="#111" stroke-width="1.9" fill="none" stroke-linecap="butt"/>
<path d="M120.78 603.26V587.72M145.56 603.26V587.72M170.35 602.54V586.28M195.14 603.26V587.72M219.93 603.98V589.15M244.71 601.11V584.13M269.5 608.28V592.74" stroke="#222" stroke-width="1.7" fill="none"/>
<path d="M117.78 587.72H123.78M142.56 587.72H148.56M167.35 586.28H173.35M192.14 587.72H198.14M216.93 589.15H222.93M241.71 584.13H247.71M266.5 592.74H272.5" stroke="#111" stroke-width="2.1" fill="none"/>
<path d="M129.64 637.44L136.7 636.22M154.56 634.68L161.35 634.68M179.34 635.07L186.15 635.37M204.09 634.85L210.97 634.15M228.87 632.21L235.77 631.41M253.68 631.16L260.53 631.75" stroke="#111" stroke-width="1.9" fill="none" stroke-linecap="butt"/>
<path d="M120.78 635.13V630.02M145.56 630.83V621.78M170.35 630.83V620.34M195.14 631.91V624.28M219.93 629.4V621.78M244.71 626.53V613.17M269.5 628.68V612.45" stroke="#222" stroke-width="1.7" fill="none"/>
<path d="M117.78 630.02H123.78M142.56 621.78H148.56M167.35 620.34H173.35M192.14 624.28H198.14M216.93 621.78H222.93M241.71 613.17H247.71M266.5 612.45H272.5" stroke="#111" stroke-width="2.1" fill="none"/>
<path d="M129.68 650.24L136.66 649.23M154.53 647.17L161.38 646.57M179.06 643.53L186.43 641.61M204.13 639.6L210.93 639.8M228.72 638.15L235.92 636.59M253.64 635.84L260.58 636.75" stroke="#111" stroke-width="1.9" fill="none" stroke-linecap="butt"/>
<path d="M219.93 635.96V623.57M244.71 630.58V621.78M269.5 633.81V624.28" stroke="#222" stroke-width="1.7" fill="none"/>
<path d="M216.93 623.57H222.93M241.71 621.78H247.71M266.5 624.28H272.5" stroke="#111" stroke-width="2.1" fill="none"/>
<circle cx="120.78" cy="651.53" r="3.2" fill="#b4b4b4" stroke="#111" stroke-width="1.9"/>
<circle cx="120.78" cy="651.53" r="1.0" fill="#111"/>
<circle cx="145.56" cy="647.95" r="3.2" fill="#b4b4b4" stroke="#111" stroke-width="1.9"/>
<circle cx="145.56" cy="647.95" r="1.0" fill="#111"/>
<circle cx="170.35" cy="645.79" r="3.2" fill="#b4b4b4" stroke="#111" stroke-width="1.9"/>
<circle cx="170.35" cy="645.79" r="1.0" fill="#111"/>
<circle cx="195.14" cy="639.34" r="3.2" fill="#b4b4b4" stroke="#111" stroke-width="1.9"/>
<circle cx="195.14" cy="639.34" r="1.0" fill="#111"/>
<circle cx="219.93" cy="640.06" r="3.2" fill="#b4b4b4" stroke="#111" stroke-width="1.9"/>
<circle cx="219.93" cy="640.06" r="1.0" fill="#111"/>
<circle cx="244.71" cy="634.68" r="3.2" fill="#b4b4b4" stroke="#111" stroke-width="1.9"/>
<circle cx="244.71" cy="634.68" r="1.0" fill="#111"/>
<circle cx="269.5" cy="637.91" r="3.2" fill="#b4b4b4" stroke="#111" stroke-width="1.9"/>
<circle cx="269.5" cy="637.91" r="1.0" fill="#111"/>
<rect x="117.83" y="636.03" width="5.9" height="5.9" fill="none" stroke="#111" stroke-width="1.9"/>
<rect x="142.61" y="631.73" width="5.9" height="5.9" fill="none" stroke="#111" stroke-width="1.9"/>
<rect x="167.4" y="631.73" width="5.9" height="5.9" fill="none" stroke="#111" stroke-width="1.9"/>
<rect x="192.19" y="632.81" width="5.9" height="5.9" fill="none" stroke="#111" stroke-width="1.9"/>
<rect x="216.98" y="630.3" width="5.9" height="5.9" fill="none" stroke="#111" stroke-width="1.9"/>
<rect x="241.76" y="627.43" width="5.9" height="5.9" fill="none" stroke="#111" stroke-width="1.9"/>
<rect x="266.55" y="629.58" width="5.9" height="5.9" fill="none" stroke="#111" stroke-width="1.9"/>
<path d="M120.78 602.71L123.88 608.6L117.68 608.6Z" fill="#111"/>
<path d="M145.56 602.71L148.66 608.6L142.46 608.6Z" fill="#111"/>
<path d="M170.35 601.99L173.45 607.88L167.25 607.88Z" fill="#111"/>
<path d="M195.14 602.71L198.24 608.6L192.04 608.6Z" fill="#111"/>
<path d="M219.93 603.43L223.03 609.32L216.83 609.32Z" fill="#111"/>
<path d="M244.71 600.56L247.81 606.45L241.61 606.45Z" fill="#111"/>
<path d="M269.5 607.73L272.6 613.62L266.4 613.62Z" fill="#111"/>
</g>
<g>
<text x="562.9" y="528.2" font-size="15.5" text-anchor="middle" textLength="153.8">dynamic compliance</text>
<text transform="translate(399.2 620.7) rotate(-90)" font-size="13.2" text-anchor="middle">ml/cmH2O</text>
<path d="M442.9 549.1V692.8" stroke="#2a2a2a" stroke-width="2.1" fill="none"/>
<path d="M436.3 692.8H443.95" stroke="#2a2a2a" stroke-width="2.1"/>
<text x="434.3" y="697.55" font-size="12.5" text-anchor="end">0</text>
<path d="M436.3 664.06H443.95" stroke="#2a2a2a" stroke-width="2.1"/>
<text x="434.3" y="668.81" font-size="12.5" text-anchor="end">10</text>
<path d="M436.3 635.32H443.95" stroke="#2a2a2a" stroke-width="2.1"/>
<text x="434.3" y="640.07" font-size="12.5" text-anchor="end">20</text>
<path d="M436.3 606.58H443.95" stroke="#2a2a2a" stroke-width="2.1"/>
<text x="434.3" y="611.33" font-size="12.5" text-anchor="end">30</text>
<path d="M436.3 577.84H443.95" stroke="#2a2a2a" stroke-width="2.1"/>
<text x="434.3" y="582.59" font-size="12.5" text-anchor="end">40</text>
<path d="M436.3 549.1H443.95" stroke="#2a2a2a" stroke-width="2.1"/>
<text x="434.3" y="553.85" font-size="12.5" text-anchor="end">50</text>
<path d="M457.55 708.9H683.41" stroke="#2a2a2a" stroke-width="2.1" fill="none"/>
<path d="M458.6 708.9V715.5" stroke="#2a2a2a" stroke-width="2.1"/>
<text x="458.6" y="729.4" font-size="12.5" text-anchor="middle">0</text>
<path d="M508.33 708.9V715.5" stroke="#2a2a2a" stroke-width="2.1"/>
<text x="508.33" y="729.4" font-size="12.5" text-anchor="middle">30</text>
<path d="M558.05 708.9V715.5" stroke="#2a2a2a" stroke-width="2.1"/>
<text x="558.05" y="729.4" font-size="12.5" text-anchor="middle">60</text>
<path d="M607.78 708.9V715.5" stroke="#2a2a2a" stroke-width="2.1"/>
<text x="607.78" y="729.4" font-size="12.5" text-anchor="middle">90</text>
<path d="M657.5 708.9V715.5" stroke="#2a2a2a" stroke-width="2.1"/>
<text x="657.5" y="729.4" font-size="12.5" text-anchor="middle">120</text>
<path d="M483.46 708.9V712.3" stroke="#2a2a2a" stroke-width="2.1"/>
<path d="M533.19 708.9V712.3" stroke="#2a2a2a" stroke-width="2.1"/>
<path d="M582.91 708.9V712.3" stroke="#2a2a2a" stroke-width="2.1"/>
<path d="M632.64 708.9V712.3" stroke="#2a2a2a" stroke-width="2.1"/>
<path d="M682.36 708.9V712.3" stroke="#2a2a2a" stroke-width="2.1"/>
<path d="M516.61 558V705.8" stroke="#a9a9a9" stroke-width="2.0" stroke-dasharray="2.1 2.72"/>
<path d="M566.34 558V705.8" stroke="#a9a9a9" stroke-width="2.0" stroke-dasharray="2.1 2.72"/>
<path d="M616.06 558V705.8" stroke="#a9a9a9" stroke-width="2.0" stroke-dasharray="2.1 2.72"/>
<path d="M513.41 552.3h6.4M516.61 549.2v6.2" stroke="#111" stroke-width="2.1"/>
<path d="M559.54 552.3h6.4M562.74 549.2v6.2" stroke="#111" stroke-width="2.1"/>
<path d="M566.74 552.3h6.4M569.94 549.2v6.2" stroke="#111" stroke-width="2.1"/>
<text x="616.26" y="557" font-size="13.3" text-anchor="middle" style="stroke-width:0.5px">#</text>
<path d="M517.31 672.16L524.2 671.76M542.18 671.66L549.06 671.98M567 673.33L573.96 674.05M591.91 674.98L598.78 674.98M616.76 675.5L623.65 675.9M641.63 676L648.51 675.68" stroke="#111" stroke-width="1.9" fill="none" stroke-linecap="butt"/>
<path d="M508.33 669.58V667.22M533.19 668.14V666.07M558.05 669.29V667.22" stroke="#222" stroke-width="1.7" fill="none"/>
<path d="M506.03 667.22H510.63M530.89 666.07H535.49M555.75 667.22H560.35" stroke="#111" stroke-width="2.1" fill="none"/>
<path d="M517.07 641.24L524.44 639.45M542.12 636.2L549.12 635.31M567.05 633.96L573.91 633.8M591.38 636.63L599.3 639.47M616.73 641.57L623.69 640.85M641.41 637.89L648.73 636.2" stroke="#111" stroke-width="1.9" fill="none" stroke-linecap="butt"/>
<path d="M508.33 639.52V624.11M533.19 633.48V616.64M558.05 630.32V609.45M582.91 629.75V609.45M607.78 638.65V626.7M632.64 636.07V619.51M657.5 630.32V610.32" stroke="#222" stroke-width="1.7" fill="none"/>
<path d="M506.03 624.11H510.63M530.89 616.64H535.49M555.75 609.45H560.35M580.61 609.45H585.21M605.48 626.7H610.08M630.34 619.51H634.94M655.2 610.32H659.8" stroke="#111" stroke-width="2.1" fill="none"/>
<path d="M516.8 621.11L524.72 623.95M542.1 628.22L549.14 629.2M566.98 631.57L573.98 632.46M591.42 630.65L599.27 627.92M616.28 627.92L624.13 630.65M641.64 633.8L648.5 633.96" stroke="#111" stroke-width="1.9" fill="none" stroke-linecap="butt"/>
<path d="M508.33 613.98V606.58M533.19 622.89V608.02M558.05 626.33V609.45M582.91 629.5V609.45M607.78 620.87V597.67M632.64 629.5V609.45M657.5 630.07V610.32" stroke="#222" stroke-width="1.7" fill="none"/>
<path d="M506.03 606.58H510.63M530.89 608.02H535.49M555.75 609.45H560.35M580.61 609.45H585.21M605.48 597.67H610.08M630.34 609.45H634.94M655.2 610.32H659.8" stroke="#111" stroke-width="2.1" fill="none"/>
<circle cx="508.33" cy="618.08" r="3.2" fill="#b4b4b4" stroke="#111" stroke-width="1.9"/>
<circle cx="508.33" cy="618.08" r="1.0" fill="#111"/>
<circle cx="533.19" cy="626.99" r="3.2" fill="#b4b4b4" stroke="#111" stroke-width="1.9"/>
<circle cx="533.19" cy="626.99" r="1.0" fill="#111"/>
<circle cx="558.05" cy="630.43" r="3.2" fill="#b4b4b4" stroke="#111" stroke-width="1.9"/>
<circle cx="558.05" cy="630.43" r="1.0" fill="#111"/>
<circle cx="582.91" cy="633.6" r="3.2" fill="#b4b4b4" stroke="#111" stroke-width="1.9"/>
<circle cx="582.91" cy="633.6" r="1.0" fill="#111"/>
<circle cx="607.78" cy="624.97" r="3.2" fill="#b4b4b4" stroke="#111" stroke-width="1.9"/>
<circle cx="607.78" cy="624.97" r="1.0" fill="#111"/>
<circle cx="632.64" cy="633.6" r="3.2" fill="#b4b4b4" stroke="#111" stroke-width="1.9"/>
<circle cx="632.64" cy="633.6" r="1.0" fill="#111"/>
<circle cx="657.5" cy="634.17" r="3.2" fill="#b4b4b4" stroke="#111" stroke-width="1.9"/>
<circle cx="657.5" cy="634.17" r="1.0" fill="#111"/>
<rect x="505.38" y="640.42" width="5.9" height="5.9" fill="none" stroke="#111" stroke-width="1.9"/>
<rect x="530.24" y="634.38" width="5.9" height="5.9" fill="none" stroke="#111" stroke-width="1.9"/>
<rect x="555.1" y="631.22" width="5.9" height="5.9" fill="none" stroke="#111" stroke-width="1.9"/>
<rect x="579.96" y="630.65" width="5.9" height="5.9" fill="none" stroke="#111" stroke-width="1.9"/>
<rect x="604.83" y="639.55" width="5.9" height="5.9" fill="none" stroke="#111" stroke-width="1.9"/>
<rect x="629.69" y="636.97" width="5.9" height="5.9" fill="none" stroke="#111" stroke-width="1.9"/>
<rect x="654.55" y="631.22" width="5.9" height="5.9" fill="none" stroke="#111" stroke-width="1.9"/>
<path d="M508.33 669.03L511.43 674.92L505.23 674.92Z" fill="#111"/>
<path d="M533.19 667.59L536.29 673.48L530.09 673.48Z" fill="#111"/>
<path d="M558.05 668.74L561.15 674.63L554.95 674.63Z" fill="#111"/>
<path d="M582.91 671.33L586.01 677.22L579.81 677.22Z" fill="#111"/>
<path d="M607.78 671.33L610.88 677.22L604.68 677.22Z" fill="#111"/>
<path d="M632.64 672.77L635.74 678.66L629.54 678.66Z" fill="#111"/>
<path d="M657.5 671.62L660.6 677.51L654.4 677.51Z" fill="#111"/>
</g>
<g>
<text x="148.2" y="785.3" font-size="15.5" text-anchor="start">PV pO<tspan font-size="11" dx="0.9" dy="3.4">2</tspan></text>
<text transform="translate(11.6 880.3) rotate(-90)" font-size="13.2" text-anchor="middle">mmHg</text>
<path d="M55 808.7V952.3" stroke="#2a2a2a" stroke-width="2.1" fill="none"/>
<path d="M48.4 952.3H56.05" stroke="#2a2a2a" stroke-width="2.1"/>
<text x="46.4" y="957.05" font-size="12.5" text-anchor="end">0</text>
<path d="M48.4 923.58H56.05" stroke="#2a2a2a" stroke-width="2.1"/>
<text x="46.4" y="928.33" font-size="12.5" text-anchor="end">50</text>
<path d="M48.4 894.86H56.05" stroke="#2a2a2a" stroke-width="2.1"/>
<text x="46.4" y="899.61" font-size="12.5" text-anchor="end">100</text>
<path d="M48.4 866.14H56.05" stroke="#2a2a2a" stroke-width="2.1"/>
<text x="46.4" y="870.89" font-size="12.5" text-anchor="end">150</text>
<path d="M48.4 837.42H56.05" stroke="#2a2a2a" stroke-width="2.1"/>
<text x="46.4" y="842.17" font-size="12.5" text-anchor="end">200</text>
<path d="M48.4 808.7H56.05" stroke="#2a2a2a" stroke-width="2.1"/>
<text x="46.4" y="813.45" font-size="12.5" text-anchor="end">250</text>
<path d="M70.15 968.5H295.34" stroke="#2a2a2a" stroke-width="2.1" fill="none"/>
<path d="M71.2 968.5V975.1" stroke="#2a2a2a" stroke-width="2.1"/>
<text x="71.2" y="989" font-size="12.5" text-anchor="middle">0</text>
<path d="M120.78 968.5V975.1" stroke="#2a2a2a" stroke-width="2.1"/>
<text x="120.78" y="989" font-size="12.5" text-anchor="middle">30</text>
<path d="M170.35 968.5V975.1" stroke="#2a2a2a" stroke-width="2.1"/>
<text x="170.35" y="989" font-size="12.5" text-anchor="middle">60</text>
<path d="M219.93 968.5V975.1" stroke="#2a2a2a" stroke-width="2.1"/>
<text x="219.93" y="989" font-size="12.5" text-anchor="middle">90</text>
<path d="M269.5 968.5V975.1" stroke="#2a2a2a" stroke-width="2.1"/>
<text x="269.5" y="989" font-size="12.5" text-anchor="middle">120</text>
<path d="M95.99 968.5V971.9" stroke="#2a2a2a" stroke-width="2.1"/>
<path d="M145.56 968.5V971.9" stroke="#2a2a2a" stroke-width="2.1"/>
<path d="M195.14 968.5V971.9" stroke="#2a2a2a" stroke-width="2.1"/>
<path d="M244.71 968.5V971.9" stroke="#2a2a2a" stroke-width="2.1"/>
<path d="M294.29 968.5V971.9" stroke="#2a2a2a" stroke-width="2.1"/>
<path d="M129.04 818V965.4" stroke="#a9a9a9" stroke-width="2.0" stroke-dasharray="2.1 2.72"/>
<path d="M178.61 818V965.4" stroke="#a9a9a9" stroke-width="2.0" stroke-dasharray="2.1 2.72"/>
<path d="M228.19 818V965.4" stroke="#a9a9a9" stroke-width="2.0" stroke-dasharray="2.1 2.72"/>
<path d="M125.84 812.1h6.4M129.04 809v6.2" stroke="#111" stroke-width="2.1"/>
<path d="M171.81 812.1h6.4M175.01 809v6.2" stroke="#111" stroke-width="2.1"/>
<path d="M179.01 812.1h6.4M182.21 809v6.2" stroke="#111" stroke-width="2.1"/>
<text x="228.39" y="816.8" font-size="13.3" text-anchor="middle" style="stroke-width:0.5px">#</text>
<path d="M129.75 852.69L136.59 852.2M154.36 853.47L161.56 855.03M179.35 857.16L186.14 857.32M204.14 857.52L210.93 857.52M228.93 857.52L235.71 857.52M253.21 854.57L261 851.86" stroke="#111" stroke-width="1.9" fill="none" stroke-linecap="butt"/>
<path d="M120.78 850.23V845.75M145.56 848.45V847.76M219.93 854.42V853.5M244.71 854.42V853.5M269.5 845.81V843.16" stroke="#222" stroke-width="1.7" fill="none"/>
<path d="M118.38 845.75H123.18M143.16 847.76H147.96M167.95 853.5H172.75M217.53 853.5H222.33M242.31 853.5H247.11M267.1 843.16H271.9" stroke="#111" stroke-width="2.1" fill="none"/>
<path d="M129.77 862.24L136.56 862.17M154.52 861.15L161.4 860.45M179.35 859.62L186.14 859.68M204.12 860.31L210.94 860.72M228.08 857.46L236.55 853.51M253.64 850.87L260.57 851.77" stroke="#111" stroke-width="1.9" fill="none" stroke-linecap="butt"/>
<path d="M170.35 855.68V851.78M195.14 855.91V854.65M269.5 849.08V839.14" stroke="#222" stroke-width="1.7" fill="none"/>
<path d="M167.95 851.78H172.75M192.74 854.65H197.54M217.53 856.95H222.33M242.31 845.46H247.11M267.1 839.14H271.9" stroke="#111" stroke-width="2.1" fill="none"/>
<path d="M129.62 840.67L136.71 841.98M153.78 839.95L162.13 836.21M178.38 836.6L187.1 841M204.01 846.58L211.05 847.79M227.84 845.03L236.79 840.2M252.69 840.1L261.53 844.73" stroke="#111" stroke-width="1.9" fill="none" stroke-linecap="butt"/>
<path d="M120.78 834.93V833.23M145.56 839.52V837.65M170.35 828.44V826.91M195.14 840.96V839.43M219.93 845.21V844.43M269.5 844.81V843.16" stroke="#222" stroke-width="1.7" fill="none"/>
<path d="M118.38 833.23H123.18M143.16 837.65H147.96M167.95 826.91H172.75M192.74 839.43H197.54M217.53 844.43H222.33M242.31 831.33H247.11M267.1 843.16H271.9" stroke="#111" stroke-width="2.1" fill="none"/>
<circle cx="120.78" cy="839.03" r="3.2" fill="#b4b4b4" stroke="#111" stroke-width="1.9"/>
<circle cx="120.78" cy="839.03" r="1.0" fill="#111"/>
<circle cx="145.56" cy="843.62" r="3.2" fill="#b4b4b4" stroke="#111" stroke-width="1.9"/>
<circle cx="145.56" cy="843.62" r="1.0" fill="#111"/>
<circle cx="170.35" cy="832.54" r="3.2" fill="#b4b4b4" stroke="#111" stroke-width="1.9"/>
<circle cx="170.35" cy="832.54" r="1.0" fill="#111"/>
<circle cx="195.14" cy="845.06" r="3.2" fill="#b4b4b4" stroke="#111" stroke-width="1.9"/>
<circle cx="195.14" cy="845.06" r="1.0" fill="#111"/>
<circle cx="219.93" cy="849.31" r="3.2" fill="#b4b4b4" stroke="#111" stroke-width="1.9"/>
<circle cx="219.93" cy="849.31" r="1.0" fill="#111"/>
<circle cx="244.71" cy="835.93" r="3.2" fill="#b4b4b4" stroke="#111" stroke-width="1.9"/>
<circle cx="244.71" cy="835.93" r="1.0" fill="#111"/>
<circle cx="269.5" cy="848.91" r="3.2" fill="#b4b4b4" stroke="#111" stroke-width="1.9"/>
<circle cx="269.5" cy="848.91" r="1.0" fill="#111"/>
<rect x="117.83" y="859.4" width="5.9" height="5.9" fill="none" stroke="#111" stroke-width="1.9"/>
<rect x="142.61" y="859.11" width="5.9" height="5.9" fill="none" stroke="#111" stroke-width="1.9"/>
<rect x="167.4" y="856.58" width="5.9" height="5.9" fill="none" stroke="#111" stroke-width="1.9"/>
<rect x="192.19" y="856.81" width="5.9" height="5.9" fill="none" stroke="#111" stroke-width="1.9"/>
<rect x="216.98" y="858.31" width="5.9" height="5.9" fill="none" stroke="#111" stroke-width="1.9"/>
<rect x="241.76" y="846.76" width="5.9" height="5.9" fill="none" stroke="#111" stroke-width="1.9"/>
<rect x="266.55" y="849.98" width="5.9" height="5.9" fill="none" stroke="#111" stroke-width="1.9"/>
<path d="M120.78 849.68L123.88 855.57L117.68 855.57Z" fill="#111"/>
<path d="M145.56 847.9L148.66 853.79L142.46 853.79Z" fill="#111"/>
<path d="M170.35 853.3L173.45 859.19L167.25 859.19Z" fill="#111"/>
<path d="M195.14 853.87L198.24 859.76L192.04 859.76Z" fill="#111"/>
<path d="M219.93 853.87L223.03 859.76L216.83 859.76Z" fill="#111"/>
<path d="M244.71 853.87L247.81 859.76L241.61 859.76Z" fill="#111"/>
<path d="M269.5 845.26L272.6 851.15L266.4 851.15Z" fill="#111"/>
</g>
<g>
<text x="530.4" y="785.3" font-size="15.5" text-anchor="start">PV pCO<tspan font-size="11" dx="0.9" dy="3.4">2</tspan></text>
<text transform="translate(398.8 878.2) rotate(-90)" font-size="13.2" text-anchor="middle">mmHg</text>
<path d="M442.3 808.9V951.9" stroke="#2a2a2a" stroke-width="2.1" fill="none"/>
<path d="M435.7 951.9H443.35" stroke="#2a2a2a" stroke-width="2.1"/>
<text x="433.7" y="956.65" font-size="12.5" text-anchor="end">0</text>
<path d="M435.7 916.15H443.35" stroke="#2a2a2a" stroke-width="2.1"/>
<text x="433.7" y="920.9" font-size="12.5" text-anchor="end">10</text>
<path d="M435.7 880.4H443.35" stroke="#2a2a2a" stroke-width="2.1"/>
<text x="433.7" y="885.15" font-size="12.5" text-anchor="end">20</text>
<path d="M435.7 844.65H443.35" stroke="#2a2a2a" stroke-width="2.1"/>
<text x="433.7" y="849.4" font-size="12.5" text-anchor="end">30</text>
<path d="M435.7 808.9H443.35" stroke="#2a2a2a" stroke-width="2.1"/>
<text x="433.7" y="813.65" font-size="12.5" text-anchor="end">40</text>
<path d="M438.9 934.02H442.3" stroke="#2a2a2a" stroke-width="2.1"/>
<path d="M438.9 898.27H442.3" stroke="#2a2a2a" stroke-width="2.1"/>
<path d="M438.9 862.52H442.3" stroke="#2a2a2a" stroke-width="2.1"/>
<path d="M438.9 826.77H442.3" stroke="#2a2a2a" stroke-width="2.1"/>
<path d="M457.25 968.3H683.18" stroke="#2a2a2a" stroke-width="2.1" fill="none"/>
<path d="M458.3 968.3V974.9" stroke="#2a2a2a" stroke-width="2.1"/>
<text x="458.3" y="988.8" font-size="12.5" text-anchor="middle">0</text>
<path d="M508.04 968.3V974.9" stroke="#2a2a2a" stroke-width="2.1"/>
<text x="508.04" y="988.8" font-size="12.5" text-anchor="middle">30</text>
<path d="M557.78 968.3V974.9" stroke="#2a2a2a" stroke-width="2.1"/>
<text x="557.78" y="988.8" font-size="12.5" text-anchor="middle">60</text>
<path d="M607.52 968.3V974.9" stroke="#2a2a2a" stroke-width="2.1"/>
<text x="607.52" y="988.8" font-size="12.5" text-anchor="middle">90</text>
<path d="M657.26 968.3V974.9" stroke="#2a2a2a" stroke-width="2.1"/>
<text x="657.26" y="988.8" font-size="12.5" text-anchor="middle">120</text>
<path d="M483.17 968.3V971.7" stroke="#2a2a2a" stroke-width="2.1"/>
<path d="M532.91 968.3V971.7" stroke="#2a2a2a" stroke-width="2.1"/>
<path d="M582.65 968.3V971.7" stroke="#2a2a2a" stroke-width="2.1"/>
<path d="M632.39 968.3V971.7" stroke="#2a2a2a" stroke-width="2.1"/>
<path d="M682.13 968.3V971.7" stroke="#2a2a2a" stroke-width="2.1"/>
<path d="M516.33 818V965.4" stroke="#a9a9a9" stroke-width="2.0" stroke-dasharray="2.1 2.72"/>
<path d="M566.07 818V965.4" stroke="#a9a9a9" stroke-width="2.0" stroke-dasharray="2.1 2.72"/>
<path d="M615.81 818V965.4" stroke="#a9a9a9" stroke-width="2.0" stroke-dasharray="2.1 2.72"/>
<path d="M513.13 812.1h6.4M516.33 809v6.2" stroke="#111" stroke-width="2.1"/>
<path d="M559.27 812.1h6.4M562.47 809v6.2" stroke="#111" stroke-width="2.1"/>
<path d="M566.47 812.1h6.4M569.67 809v6.2" stroke="#111" stroke-width="2.1"/>
<text x="616.01" y="816.8" font-size="13.3" text-anchor="middle" style="stroke-width:0.5px">#</text>
<path d="M515.4 894.52L525.55 887.37M541.59 879.82L549.1 877.77M566.4 878L574.03 880.3M590.91 879.34L599.26 875.74M616.46 871.15L623.45 870.35M641.39 869.32L648.26 869.32" stroke="#111" stroke-width="1.9" fill="none" stroke-linecap="butt"/>
<path d="M508.04 896.6V882.9M532.91 879.09V869.67M557.78 872.29V858.95M582.65 879.8V858.95M607.52 869.08V858.95M632.39 866.22V851.44M657.26 866.22V852.51" stroke="#222" stroke-width="1.7" fill="none"/>
<path d="M505.04 882.9H511.04M529.91 869.67H535.91M554.78 858.95H560.78M579.65 858.95H585.65M604.52 858.95H610.52M629.39 851.44H635.39M654.26 852.51H660.26" stroke="#111" stroke-width="2.1" fill="none"/>
<path d="M516.95 894.55L524 895.56M541.82 898.13L548.87 899.14M566.71 901.57L573.72 902.48M591.3 906.12L598.87 908.3M615.56 906.74L624.35 902.32M641.04 900.76L648.61 902.94" stroke="#111" stroke-width="1.9" fill="none" stroke-linecap="butt"/>
<path d="M508.04 889.42V869.67M532.91 893V869.67M557.78 896.57V882.9M582.65 899.79V858.95M607.52 906.94V898.63M632.39 894.42V866.1M657.26 901.57V878.97" stroke="#222" stroke-width="1.7" fill="none"/>
<path d="M505.04 869.67H511.04M529.91 869.67H535.91M554.78 882.9H560.78M579.65 858.95H585.65M604.52 898.63H610.52M629.39 866.1H635.39M654.26 878.97H660.26" stroke="#111" stroke-width="2.1" fill="none"/>
<path d="M517.04 867.4L523.91 867.3M541.38 864.13L549.31 861.28M566.78 858.24L573.65 858.24M591.3 860.72L598.87 862.9M616.32 863.49L623.59 861.92M641.39 860.02L648.26 860.02" stroke="#111" stroke-width="1.9" fill="none" stroke-linecap="butt"/>
<path d="M508.04 863.43V862.88M532.91 863.07V855.02M557.78 854.13V853.59M582.65 854.13V852.87M607.52 861.28V842.86M632.39 855.92V835M657.26 855.92V834.64" stroke="#222" stroke-width="1.7" fill="none"/>
<path d="M505.04 862.88H511.04M529.91 855.02H535.91M554.78 853.59H560.78M579.65 852.87H585.65M604.52 842.86H610.52M629.39 835H635.39M654.26 834.64H660.26" stroke="#111" stroke-width="2.1" fill="none"/>
<circle cx="508.04" cy="867.53" r="3.2" fill="#b4b4b4" stroke="#111" stroke-width="1.9"/>
<circle cx="508.04" cy="867.53" r="1.0" fill="#111"/>
<circle cx="532.91" cy="867.17" r="3.2" fill="#b4b4b4" stroke="#111" stroke-width="1.9"/>
<circle cx="532.91" cy="867.17" r="1.0" fill="#111"/>
<circle cx="557.78" cy="858.24" r="3.2" fill="#b4b4b4" stroke="#111" stroke-width="1.9"/>
<circle cx="557.78" cy="858.24" r="1.0" fill="#111"/>
<circle cx="582.65" cy="858.24" r="3.2" fill="#b4b4b4" stroke="#111" stroke-width="1.9"/>
<circle cx="582.65" cy="858.24" r="1.0" fill="#111"/>
<circle cx="607.52" cy="865.38" r="3.2" fill="#b4b4b4" stroke="#111" stroke-width="1.9"/>
<circle cx="607.52" cy="865.38" r="1.0" fill="#111"/>
<circle cx="632.39" cy="860.02" r="3.2" fill="#b4b4b4" stroke="#111" stroke-width="1.9"/>
<circle cx="632.39" cy="860.02" r="1.0" fill="#111"/>
<circle cx="657.26" cy="860.02" r="3.2" fill="#b4b4b4" stroke="#111" stroke-width="1.9"/>
<circle cx="657.26" cy="860.02" r="1.0" fill="#111"/>
<rect x="505.09" y="890.32" width="5.9" height="5.9" fill="none" stroke="#111" stroke-width="1.9"/>
<rect x="529.96" y="893.89" width="5.9" height="5.9" fill="none" stroke="#111" stroke-width="1.9"/>
<rect x="554.83" y="897.47" width="5.9" height="5.9" fill="none" stroke="#111" stroke-width="1.9"/>
<rect x="579.7" y="900.69" width="5.9" height="5.9" fill="none" stroke="#111" stroke-width="1.9"/>
<rect x="604.57" y="907.84" width="5.9" height="5.9" fill="none" stroke="#111" stroke-width="1.9"/>
<rect x="629.44" y="895.32" width="5.9" height="5.9" fill="none" stroke="#111" stroke-width="1.9"/>
<rect x="654.31" y="902.47" width="5.9" height="5.9" fill="none" stroke="#111" stroke-width="1.9"/>
<path d="M508.04 896.05L511.14 901.94L504.94 901.94Z" fill="#111"/>
<path d="M532.91 878.54L536.01 884.43L529.81 884.43Z" fill="#111"/>
<path d="M557.78 871.74L560.88 877.63L554.68 877.63Z" fill="#111"/>
<path d="M582.65 879.25L585.75 885.14L579.55 885.14Z" fill="#111"/>
<path d="M607.52 868.53L610.62 874.42L604.42 874.42Z" fill="#111"/>
<path d="M632.39 865.67L635.49 871.56L629.29 871.56Z" fill="#111"/>
<path d="M657.26 865.67L660.36 871.56L654.16 871.56Z" fill="#111"/>
</g>
</svg>
</body></html>
